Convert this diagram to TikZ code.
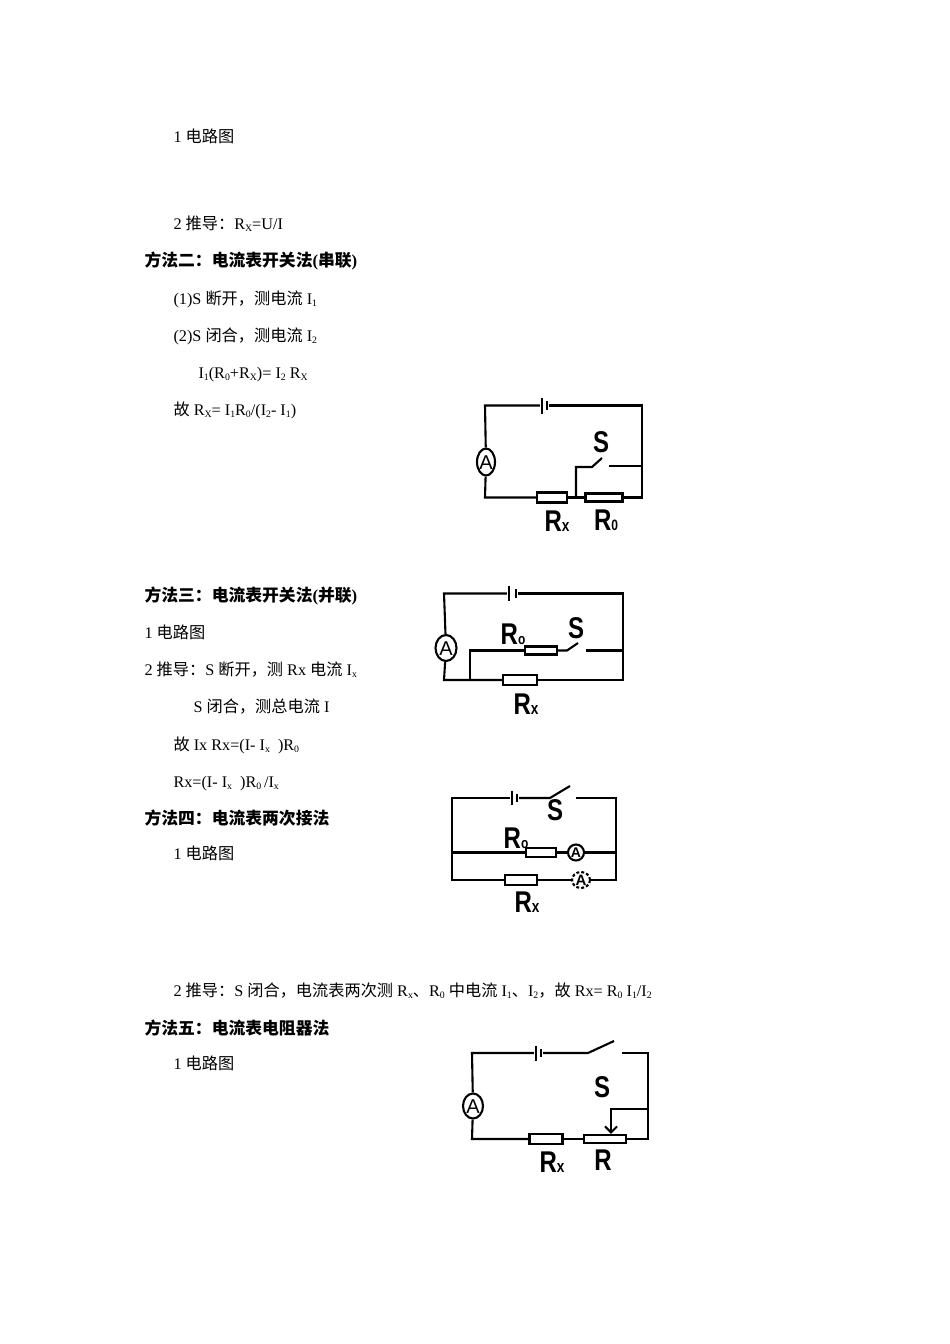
\documentclass[tikz,border=0pt]{standalone}
\usepackage{fontspec}
\setmainfont{Liberation Serif}
\newfontfamily\cjk{Noto Sans CJK SC}
\newfontfamily\handfont{Liberation Sans}
\usetikzlibrary{arrows,arrows.meta,shapes.geometric}

\newcommand{\hand}[1]{\scalebox{.8}[1]{#1}}
\newcommand{\sbs}[1]{\raisebox{-.4ex}{\fontsize{9.8}{9.8}\selectfont #1}}
\newcommand{\mtr}[1]{\makebox[0pt]{\raisebox{-.36em}[0pt][0pt]{#1}}}

\begin{document}
\begin{tikzpicture}[x=1pt,y=-1pt,line width=2.1pt]

    \tikzstyle{txt}=[anchor=base west,inner sep=0pt,font=\fontsize{16.2}{16}\selectfont]
    \tikzstyle{head}=[txt,font=\fontsize{16.8}{16}\selectfont\bfseries]
    \tikzstyle{res}=[draw=black,fill=white,rectangle,inner sep=0pt]
    \tikzstyle{meter}=[draw=black,fill=white,ellipse,inner sep=0pt,font=\handfont\fontsize{20}{20}\selectfont]
    \tikzstyle{plate}=[fill=black,rectangle,inner sep=0pt,minimum width=2pt]
    \tikzstyle{lab}=[inner sep=0pt,font=\handfont\bfseries\fontsize{30}{30}\selectfont]
    \tikzstyle{wire}=[draw=black]

    \useasboundingbox (0,0) rectangle (950,1344);

    % text
    \node[txt]  (t1)  at (172.5,142)  {1 {\cjk 电路图}};
    \node[txt]  (t2)  at (172.5,229)  {2 {\cjk 推导：}R\sbs{X}=U/I};
    \node[head] (t3)  at (143.5,266)  {{\cjk 方法二：电流表开关法}({\cjk 串联})};
    \node[txt]  (t4)  at (172.5,304)  {(1)S {\cjk 断开，测电流} I\sbs{1}};
    \node[txt]  (t5)  at (172.5,341)  {(2)S {\cjk 闭合，测电流} I\sbs{2}};
    \node[txt]  (t6)  at (197.5,378)  {I\sbs{1}(R\sbs{0}+R\sbs{X})= I\sbs{2} R\sbs{X}};
    \node[txt]  (t7)  at (172.5,415)  {{\cjk 故} R\sbs{X}= I\sbs{1}R\sbs{0}/(I\sbs{2}- I\sbs{1})};
    \node[head] (t8)  at (143.5,601)  {{\cjk 方法三：电流表开关法}({\cjk 并联})};
    \node[txt]  (t9)  at (143.5,638)  {1 {\cjk 电路图}};
    \node[txt]  (t10) at (143.5,675)  {2 {\cjk 推导：}S {\cjk 断开，测} Rx {\cjk 电流} I\sbs{x}};
    \node[txt]  (t11) at (192.5,712)  {S {\cjk 闭合，测总电流} I};
    \node[txt]  (t12) at (172.5,750)  {{\cjk 故} Ix Rx=(I- I\sbs{x}\ \ )R\sbs{0}};
    \node[txt]  (t13) at (172.5,787)  {Rx=(I- I\sbs{x}\ \ )R\sbs{0}\,/I\sbs{x}};
    \node[head] (t14) at (143.5,824)  {{\cjk 方法四：电流表两次接法}};
    \node[txt]  (t15) at (172.5,859)  {1 {\cjk 电路图}};
    \node[txt]  (t16) at (172.5,996)  {2 {\cjk 推导：}S {\cjk 闭合，电流表两次测} R\sbs{x}{\cjk 、}R\sbs{0} {\cjk 中电流} I\sbs{1}{\cjk 、}I\sbs{2}{\cjk ，故} Rx= R\sbs{0} I\sbs{1}/I\sbs{2}};
    \node[head] (t17) at (143.5,1034) {{\cjk 方法五：电流表电阻器法}};
    \node[txt]  (t18) at (172.5,1069) {1 {\cjk 电路图}};

    % series circuit with switch
    \coordinate (atl) at (485,405.5);
    \coordinate (atr) at (642,405.5);
    \coordinate (abl) at (485,497.5);
    \coordinate (abr) at (642,497.5);
    \coordinate (ajn) at (576,497.5);
    \coordinate (asa) at (576,467);
    \coordinate (asb) at (592,467);
    \coordinate (asc) at (602,458);
    \coordinate (asd) at (609,466);
    \coordinate (ase) at (642,466);
    \node[plate,minimum height=16pt] (ab1) at (542,405.5) {};
    \node[plate,minimum height=9pt]  (ab2) at (547,405.5) {};
    \node[meter,minimum width=18pt,minimum height=27pt] (aam) at (486,462) {\mtr{A}};
    \node[res,minimum width=30pt,minimum height=10pt] (arx) at (552,497.5) {};
    \node[res,minimum width=37pt,minimum height=8pt]  (ar0) at (604,497.5) {};
    \draw[wire] (ab1) -- (atl) -- (aam) -- (abl) -- (arx);
    \draw[wire] (ab2) -- (atr) -- (abr) -- (ar0);
    \draw[wire] (arx) -- (ajn) -- (ar0);
    \draw[wire] (ajn) -- (asa) -- (asb) -- (asc);
    \draw[wire] (asd) -- (ase);
    \node[lab] (asl) at (601,442) {\hand{S}};
    \node[lab] (axl) at (557,521) {\hand{R{\fontsize{17}{17}\selectfont x}}};
    \node[lab] (a0l) at (606,520) {\hand{R{\fontsize{15}{15}\selectfont 0}}};

    % parallel circuit with switch
    \coordinate (btl) at (444,593.5);
    \coordinate (btr) at (623,593.5);
    \coordinate (bbl) at (444,680);
    \coordinate (bbr) at (623,680);
    \coordinate (bjn) at (470,680);
    \coordinate (bma) at (470,650.5);
    \coordinate (bsa) at (567,650.5);
    \coordinate (bsb) at (578,643);
    \coordinate (bsc) at (586,650.5);
    \coordinate (bsd) at (623,650.5);
    \node[plate,minimum height=15pt] (bb1) at (509,593.5) {};
    \node[plate,minimum height=9pt]  (bb2) at (516,593.5) {};
    \node[meter,minimum width=21pt,minimum height=26pt] (bam) at (446,648) {\mtr{A}};
    \node[res,minimum width=32pt,minimum height=8pt]  (br0) at (541,650.5) {};
    \node[res,minimum width=34pt,minimum height=10pt] (brx) at (520,680) {};
    \draw[wire] (bb1) -- (btl) -- (bam) -- (bbl) -- (brx);
    \draw[wire] (bb2) -- (btr) -- (bbr) -- (brx);
    \draw[wire] (bjn) -- (bma) -- (br0);
    \draw[wire] (br0) -- (bsa) -- (bsb);
    \draw[wire] (bsc) -- (bsd);
    \node[lab] (bsl) at (576,628) {\hand{S}};
    \node[lab] (b0l) at (513,634) {\hand{R{\fontsize{15}{15}\selectfont o}}};
    \node[lab] (bxl) at (526,704) {\hand{R{\fontsize{17}{17}\selectfont x}}};

    % two ammeter positions
    \coordinate (ctl) at (452,798);
    \coordinate (ctr) at (616,798);
    \coordinate (cbl) at (452,880);
    \coordinate (cbr) at (616,880);
    \coordinate (cml) at (452,852.5);
    \coordinate (cmr) at (616,852.5);
    \coordinate (csa) at (550,798);
    \coordinate (csb) at (570,786);
    \coordinate (csc) at (576,798);
    \node[plate,minimum height=14pt] (cb1) at (512,798) {};
    \node[plate,minimum height=8pt]  (cb2) at (517,798) {};
    \node[res,minimum width=30pt,minimum height=9pt]  (cr0) at (541,852.5) {};
    \node[res,minimum width=32pt,minimum height=10pt] (crx) at (521,880) {};
    \node[meter,minimum width=16pt,minimum height=16pt,font=\handfont\bfseries\fontsize{14}{14}\selectfont] (cam) at (576,852.5) {\mtr{A}};
    \node[meter,minimum width=18pt,minimum height=16pt,densely dashed,font=\handfont\bfseries\fontsize{15}{15}\selectfont] (caq) at (581,880) {\mtr{A}};
    \draw[wire] (cb1) -- (ctl) -- (cbl) -- (crx);
    \draw[wire] (cb2) -- (csa) -- (csb);
    \draw[wire] (csc) -- (ctr) -- (cbr) -- (caq);
    \draw[wire] (caq) -- (crx);
    \draw[wire] (cml) -- (cr0) -- (cam) -- (cmr);
    \node[lab] (csl) at (555,810) {\hand{S}};
    \node[lab] (c0l) at (516,838) {\hand{R{\fontsize{15}{15}\selectfont o}}};
    \node[lab] (cxl) at (527,902) {\hand{R{\fontsize{17}{17}\selectfont x}}};

    % rheostat circuit
    \coordinate (dtl) at (472,1053);
    \coordinate (dtr) at (648,1053);
    \coordinate (dbl) at (472,1139);
    \coordinate (dbr) at (648,1139);
    \coordinate (dsa) at (588,1053);
    \coordinate (dsb) at (614,1041);
    \coordinate (dsc) at (622,1053);
    \coordinate (dpa) at (648,1109);
    \coordinate (dpb) at (611,1109);
    \node[plate,minimum height=15pt] (db1) at (536,1053) {};
    \node[plate,minimum height=8pt]  (db2) at (541,1053) {};
    \node[meter,minimum width=20pt,minimum height=25pt] (dam) at (473,1106) {\mtr{A}};
    \node[res,minimum width=33pt,minimum height=10pt] (drx) at (546,1139) {};
    \node[res,minimum width=42pt,minimum height=8pt]  (drr) at (605,1139) {};
    \draw[wire] (db1) -- (dtl) -- (dam) -- (dbl) -- (drx);
    \draw[wire] (db2) -- (dsa) -- (dsb);
    \draw[wire] (dsc) -- (dtr) -- (dbr) -- (drr);
    \draw[wire] (drx) -- (drr);
    \draw[wire,-{Straight Barb[length=6pt,width=12pt]}] (dpa) -- (dpb) -- (dpb |- drr.north);
    \node[lab] (dsl) at (602,1087) {\hand{S}};
    \node[lab] (dxl) at (552,1162) {\hand{R{\fontsize{17}{17}\selectfont x}}};
    \node[lab] (drl) at (603,1160) {\hand{R}};
\end{tikzpicture}
\end{document}
